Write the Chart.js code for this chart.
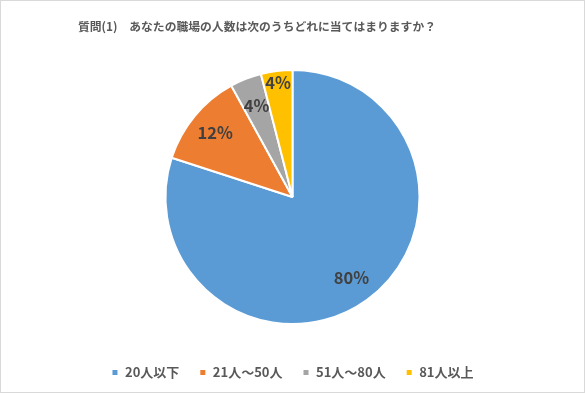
<!DOCTYPE html>
<html><head><meta charset="utf-8">
<script src="https://cdn.jsdelivr.net/npm/chart.js@4"></script>
<style>html,body{margin:0;padding:0;background:#fff}#wrap{width:585px;height:393px;position:relative}</style>
</head><body><div id="wrap"><canvas id="c" width="585" height="393"></canvas></div>
<script>
const titleText = '質問(1)\u3000あなたの職場の人数は次のうちどれに当てはまりますか？';
const categories = ['20人以下', '21人～50人', '51人～80人', '81人以上'];
const values = [80, 12, 4, 4];
const valueLabels = ['80%', '12%', '4%', '4%'];
const colors = ['#5B9BD5', '#ED7D31', '#A5A5A5', '#FFC000'];
const labelRadiusFrac = [0.79, 0.79, 0.77, 0.91];

const FONT = '"Noto Sans CJK JP", "Noto Sans", sans-serif';

const framePlugin = {
  id: 'frame',
  beforeDraw(chart) {
    const ctx = chart.ctx;
    ctx.save();
    ctx.fillStyle = '#fff';
    ctx.fillRect(0, 0, chart.width, chart.height);
    ctx.strokeStyle = '#D9D9D9';
    ctx.lineWidth = 1;
    ctx.strokeRect(0.5, 0.5, chart.width - 1, chart.height - 1);
    ctx.fillStyle = '#595959';
    ctx.font = 'bold 11.8px ' + FONT;
    ctx.textBaseline = 'middle';
    ctx.textAlign = 'left';
    ctx.fillText(titleText, 78, 27);
    ctx.restore();
  }
};

const labelPlugin = {
  id: 'sliceLabels',
  afterDatasetsDraw(chart) {
    const ctx = chart.ctx;
    const meta = chart.getDatasetMeta(0);
    ctx.save();
    ctx.fillStyle = '#404040';
    ctx.font = 'bold 16.5px ' + FONT;
    ctx.textAlign = 'center';
    ctx.textBaseline = 'middle';
    meta.data.forEach((arc, i) => {
      const p = arc.getProps(['x', 'y', 'startAngle', 'endAngle', 'outerRadius'], true);
      const mid = (p.startAngle + p.endAngle) / 2;
      const r = p.outerRadius * labelRadiusFrac[i];
      ctx.fillText(valueLabels[i], p.x + Math.cos(mid) * r, p.y + Math.sin(mid) * r);
    });
    ctx.restore();
  }
};

new Chart(document.getElementById('c'), {
  type: 'pie',
  data: {
    labels: categories,
    datasets: [{
      data: values,
      backgroundColor: colors,
      borderColor: '#fff',
      borderWidth: 2,
      radius: 127
    }]
  },
  options: {
    responsive: false,
    animation: false,
    layout: { padding: { top: 48, bottom: 4, left: 0, right: 0 } },
    plugins: {
      title: { display: false },
      tooltip: { enabled: false },
      legend: {
        position: 'bottom',
        labels: {
          boxWidth: 7,
          boxHeight: 7,
          padding: 20,
          color: '#595959',
          font: { family: FONT, size: 13, weight: 'bold' }
        }
      }
    }
  },
  plugins: [framePlugin, labelPlugin]
});
</script></body></html>
